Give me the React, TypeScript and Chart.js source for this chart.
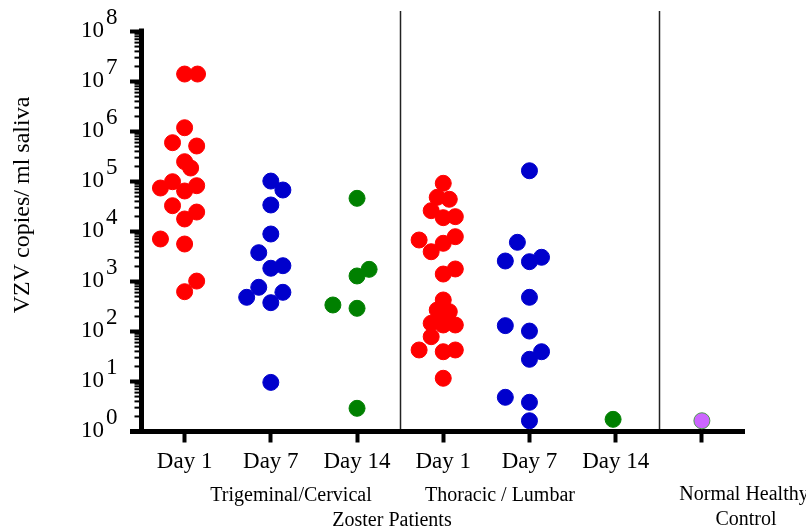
import React, { useEffect, useRef } from "react";
import { Chart, registerables } from "chart.js";

Chart.register(...registerables);

const FONT = "'Liberation Serif', 'Times New Roman', Times, serif";

// x categories (index = position on the x axis)
const categories = ["Day 1", "Day 7", "Day 14", "Day 1", "Day 7", "Day 14", ""];
const yTickExponents = [0, 1, 2, 3, 4, 5, 6, 7, 8];
const dividerPositions = [2.5, 5.5];

const yTitle = "VZV copies/ ml saliva";
const groupTrigeminal = "Trigeminal/Cervical";
const groupThoracic = "Thoracic / Lumbar";
const groupZoster = "Zoster Patients";
const controlLine1 = "Normal Healthy";
const controlLine2 = "Control";

// Trigeminal/Cervical, Day 1 (red)
const triDay1Values = [1.41e7, 1.41e7, 1.19e6, 5.97e5, 5.13e5, 2.49e5, 1.86e5, 9.9e4, 8.24e4, 7.41e4, 6.46e4, 3.28e4, 2.45e4, 1.78e4, 7.08e3, 5.62e3, 1020, 625];
const triDay1Jitter = [0, 0.15, 0, -0.14, 0.14, 0, 0.07, -0.14, 0.14, -0.28, 0, -0.14, 0.14, 0, -0.28, 0, 0.14, 0];
// Trigeminal/Cervical, Day 7 (blue)
const triDay7Values = [1.02e5, 6.76e4, 3.39e4, 8.91e3, 3.77e3, 1.84e3, 2.07e3, 766, 483, 608, 377, 9.6];
const triDay7Jitter = [0, 0.14, 0, 0, -0.14, 0, 0.14, -0.14, -0.28, 0.14, 0, 0];
// Trigeminal/Cervical, Day 14 (green)
const triDay14Values = [4.61e4, 1.29e3, 1.75e3, 339, 291, 2.91];
const triDay14Jitter = [0, 0, 0.14, -0.28, 0, 0];
// Thoracic/Lumbar, Day 1 (red)
const thoDay1Values = [9.2e4, 4.83e4, 4.41e4, 2.61e4, 1.89e4, 1.98e4, 6.76e3, 3.94e3, 5.81e3, 7.87e3, 1410, 1780, 427, 269, 249, 198, 146, 135, 135, 78.7, 42.7, 39.4, 42.7, 11.6];
const thoDay1Jitter = [0, -0.07, 0.07, -0.14, 0, 0.14, -0.28, -0.14, 0, 0.14, 0, 0.14, 0, -0.07, 0.07, 0, -0.14, 0, 0.14, -0.14, -0.28, 0, 0.14, 0];
// Thoracic/Lumbar, Day 7 (blue)
const thoDay7Values = [1.64e5, 6.08e3, 2.57e3, 2.49e3, 3.05e3, 483, 131, 102, 39.4, 27.8, 4.83, 3.84, 1.64];
const thoDay7Jitter = [0, -0.14, -0.28, 0, 0.14, 0, -0.28, 0, 0.14, 0, -0.28, 0, 0];
// Thoracic/Lumbar, Day 14 (green)
const thoDay14Values = [1.75];
const thoDay14Jitter = [-0.03];
// Normal healthy control (purple)
const controlValues = [1.64];
const controlJitter = [0];

const RED = "#FF0000";
const BLUE = "#0000CC";
const GREEN = "#008000";
const PURPLE = "#CC66FF";

function toPoints(cat: number, values: number[], jitter: number[]) {
  return values.map((v, i) => ({ x: cat + (jitter[i] || 0), y: v }));
}

function ds(label: string, cat: number, values: number[], jitter: number[], color: string, border?: string) {
  return {
    label,
    data: toPoints(cat, values, jitter),
    backgroundColor: color,
    borderColor: border || color,
    borderWidth: 1,
    pointRadius: 8,
    pointHoverRadius: 8,
    clip: false as const,
  };
}

const decorPlugin = {
  id: "decor",
  beforeDatasetsDraw(chart: any) {
    const { ctx, chartArea, scales } = chart;
    const xs = scales.x;
    const ys = scales.y;
    const ax = chartArea.left;
    const bottom = chartArea.bottom;
    const topPx = ys.getPixelForValue(1e8);
    ctx.save();
    // dividers
    ctx.strokeStyle = "#222";
    ctx.lineWidth = 1.5;
    dividerPositions.forEach((v) => {
      const px = Math.round(xs.getPixelForValue(v)) + 0.5;
      ctx.beginPath();
      ctx.moveTo(px, 11);
      ctx.lineTo(px, bottom);
      ctx.stroke();
    });
    ctx.fillStyle = "#000";
    // y axis line
    ctx.fillRect(ax - 2.5, topPx - 3, 5, bottom - topPx + 5);
    // x axis line
    ctx.fillRect(130, bottom - 2.5, chartArea.right - 130, 5);
    // y major ticks
    yTickExponents.forEach((e) => {
      const py = ys.getPixelForValue(Math.pow(10, e));
      ctx.fillRect(130, py - 2, ax - 130, 4);
    });
    // y minor ticks
    for (let e = 0; e < 8; e++) {
      for (let m = 2; m <= 9; m++) {
        const py = ys.getPixelForValue(m * Math.pow(10, e));
        ctx.fillRect(ax - 7, py - 1, 5, 2);
      }
    }
    // y tick labels 10^n
    yTickExponents.forEach((e) => {
      const py = ys.getPixelForValue(Math.pow(10, e));
      ctx.textBaseline = "alphabetic";
      ctx.font = `23px ${FONT}`;
      ctx.textAlign = "right";
      ctx.fillText("10", 104, py + 5);
      ctx.font = `23px ${FONT}`;
      ctx.textAlign = "left";
      ctx.fillText(String(e), 106, py - 8);
    });
    // y title
    ctx.save();
    ctx.translate(23, 205);
    ctx.rotate(-Math.PI / 2);
    ctx.font = `24px ${FONT}`;
    ctx.textAlign = "center";
    ctx.textBaseline = "middle";
    ctx.fillText(yTitle, 0, 0);
    ctx.restore();
    // group labels
    ctx.font = `20px ${FONT}`;
    ctx.textAlign = "center";
    ctx.textBaseline = "alphabetic";
    ctx.fillText(groupTrigeminal, 291, 501);
    ctx.fillText(groupThoracic, 500, 501);
    ctx.fillText(groupZoster, 392, 526);
    ctx.fillText(controlLine1, 744, 500);
    ctx.fillText(controlLine2, 746, 525);
    ctx.restore();
  },
};

export default function App() {
  const canvasRef = useRef<HTMLCanvasElement | null>(null);

  useEffect(() => {
    if (!canvasRef.current) return;
    const chart = new Chart(canvasRef.current, {
      type: "scatter",
      data: {
        datasets: [
          ds("Trigeminal Day 1", 0, triDay1Values, triDay1Jitter, RED),
          ds("Trigeminal Day 7", 1, triDay7Values, triDay7Jitter, BLUE),
          ds("Trigeminal Day 14", 2, triDay14Values, triDay14Jitter, GREEN),
          ds("Thoracic Day 1", 3, thoDay1Values, thoDay1Jitter, RED),
          ds("Thoracic Day 7", 4, thoDay7Values, thoDay7Jitter, BLUE),
          ds("Thoracic Day 14", 5, thoDay14Values, thoDay14Jitter, GREEN),
          ds("Normal Healthy Control", 6, controlValues, controlJitter, PURPLE, "#4f9a4f"),
        ] as any,
      },
      options: {
        animation: false,
        responsive: false,
        maintainAspectRatio: false,
        layout: { padding: { top: 31.5, right: 61, left: 0, bottom: 0 } },
        plugins: { legend: { display: false }, tooltip: { enabled: false } },
        scales: {
          x: {
            type: "linear",
            min: -0.5,
            max: 6.5,
            afterBuildTicks: (s: any) => {
              s.ticks = categories.map((_, i) => ({ value: i }));
            },
            afterFit: (s: any) => {
              s.height = 97.5;
            },
            ticks: {
              callback: (v: any) => categories[Number(v)] ?? "",
              font: { family: FONT, size: 23 },
              color: "#000",
              padding: 6,
              autoSkip: false,
              maxRotation: 0,
            },
            grid: {
              display: true,
              drawOnChartArea: false,
              drawTicks: true,
              tickLength: 11,
              tickWidth: 4,
              tickColor: "#000",
              color: "#000",
            },
            border: { display: false },
          },
          y: {
            type: "logarithmic",
            min: 1,
            max: 1e8,
            afterFit: (s: any) => {
              s.width = 141.5;
            },
            ticks: { display: false },
            grid: { display: false },
            border: { display: false },
          },
        },
      } as any,
      plugins: [decorPlugin],
    });
    return () => chart.destroy();
  }, []);

  return (
    <div style={{ position: "fixed", left: 0, top: 0, width: 806, height: 529, background: "#fff" }}>
      <canvas ref={canvasRef} width={806} height={529} style={{ width: 806, height: 529, display: "block" }} />
    </div>
  );
}
